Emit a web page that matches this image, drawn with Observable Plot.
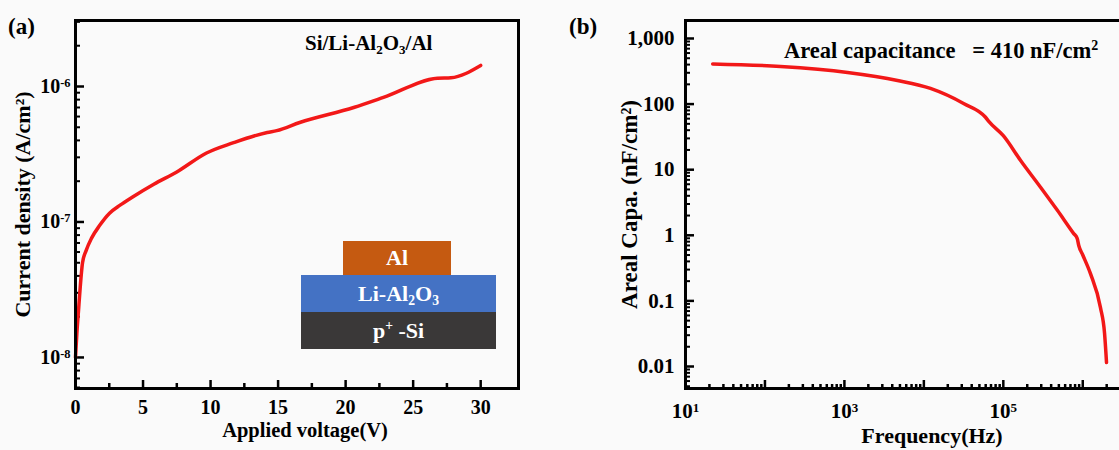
<!DOCTYPE html>
<html>
<head>
<meta charset="utf-8">
<script src="https://cdn.jsdelivr.net/npm/d3@7"></script>
<script src="https://cdn.jsdelivr.net/npm/@observablehq/plot@0.6"></script>
<style>
  body { margin: 0; background: #fafafa; }
  #fig {
    position: relative; width: 1119px; height: 450px; overflow: hidden;
    background: #fafafa; color: #000;
    font-family: "Liberation Serif", "Times New Roman", serif; font-weight: bold;
  }
  #fig svg { position: absolute; top: 0; }
  .note { position: absolute; white-space: pre; line-height: 1; }
  .note sub, .note sup, .layer sub, .layer sup { font-size: 0.62em; line-height: 0; position: relative; vertical-align: baseline; }
  .note sub, .layer sub { top: 0.3em; }
  .note sup, .layer sup { top: -0.55em; }
  .layer {
    position: absolute; color: #fff; font-size: 22px; line-height: 1; white-space: pre;
    display: flex; align-items: center; justify-content: center;
  }
</style>
</head>
<body>
<div id="fig"></div>
<script>
// (a) J–V sweep of the Si/Li-Al2O3/Al stack
const voltage = [0, 0.1, 0.22, 0.35, 0.52, 0.8, 1.19, 1.78, 2.52, 3.3, 4.23, 5.8, 7.5, 9.7, 11.65, 14.2, 14.9, 16.6, 20.6, 22.8, 26.8, 27.8, 30];
const currentDensity = [1.0e-8, 1.5e-8, 2.2e-8, 3.3e-8, 5.0e-8, 6.2e-8, 7.6e-8, 9.4e-8, 1.16e-7, 1.33e-7, 1.53e-7, 1.9e-7, 2.34e-7, 3.23e-7, 3.83e-7, 4.58e-7, 4.72e-7, 5.42e-7, 7.0e-7, 8.3e-7, 1.15e-6, 1.16e-6, 1.43e-6];

// (b) areal capacitance vs. frequency
const frequency = [22, 157, 1094, 4660, 12100, 31600, 59700, 66000, 100000, 165000, 294000, 479000, 765000, 850000, 890000, 1000000, 1250000, 1670000, 1880000, 1990000];
const capacitance = [410, 374, 303, 229, 173, 102, 63, 54, 33, 13.8, 5.4, 2.4, 1.07, 0.9, 0.7, 0.5, 0.26, 0.079, 0.032, 0.0115];

// axis ticks
const voltTicks = [0, 5, 10, 15, 20, 25, 30];
const voltMinor = [2.5, 7.5, 12.5, 17.5, 22.5, 27.5];
const currentTicks = [1e-8, 1e-7, 1e-6];
const freqTicks = [1e1, 1e2, 1e3, 1e4, 1e5, 1e6];
const freqLabels = [1e1, 1e3, 1e5];
const capTicks = [0.01, 0.1, 1, 10, 100, 1000];

// stack layers drawn in the inset, top to bottom
const layerNames = ["Al", "Li-Al<sub>2</sub>O<sub>3</sub>", "p<sup>+</sup> -Si"];
const layerColors = ["#c55a11", "#4472c4", "#3a3838"];

const FONT = '"Liberation Serif", "Times New Roman", serif';
const RED = "#f21818";
const H = 450, TOP = 20, BOTTOM = 62;
const innerH = H - TOP - BOTTOM;

const SUP = {"-": "\u207B", "0": "\u2070", "1": "\u00B9", "2": "\u00B2", "3": "\u00B3", "4": "\u2074", "5": "\u2075", "6": "\u2076", "7": "\u2077", "8": "\u2078", "9": "\u2079"};
const UNSUP = Object.fromEntries(Object.entries(SUP).map(([k, v]) => [v, k]));
const pow10 = d => "10" + String(Math.round(Math.log10(d))).replace(/./g, c => SUP[c]);
const minorLog = (domain, majors) => d3.scaleLog().domain(domain).ticks().filter(t => !majors.some(m => Math.abs(m - t) / m < 1e-9));

// turn "10⁻⁶"-style tick labels into a base plus a raised, smaller exponent
function raiseExponents(svg) {
  svg.querySelectorAll("text").forEach(t => {
    const m = t.textContent.match(/^10([\u207B\u2070\u00B9\u00B2\u00B3\u2074-\u2079]+)$/);
    if (!m) return;
    t.textContent = "10";
    const ts = document.createElementNS("http://www.w3.org/2000/svg", "tspan");
    ts.setAttribute("dy", "-0.5em");
    ts.setAttribute("font-size", "0.62em");
    ts.textContent = [...m[1]].map(c => UNSUP[c]).join("");
    t.appendChild(ts);
  });
}

const fig = document.getElementById("fig");
const baseStyle = {background: "transparent", fontFamily: FONT, fontSize: "21px", fontWeight: "bold", color: "#000", overflow: "visible"};

// ---------- panel (a) ----------
const wA = 560, leftA = 75, rightA = 42;
const innerWA = wA - leftA - rightA;
const yDomainA = [5.9e-9, 3.07e-6];
const ivData = voltage.map((v, i) => ({v, j: currentDensity[i]}));

const plotA = Plot.plot({
  width: wA, height: H,
  marginTop: TOP, marginBottom: BOTTOM, marginLeft: leftA, marginRight: rightA,
  style: baseStyle,
  x: {type: "linear", domain: [0, 32.8]},
  y: {type: "log", domain: yDomainA},
  marks: [
    Plot.ruleX(voltMinor, {insetTop: innerH - 5, stroke: "#000", strokeWidth: 2.5}),
    Plot.ruleX(voltTicks, {insetTop: innerH - 8, stroke: "#000", strokeWidth: 2.5}),
    Plot.ruleY(minorLog(yDomainA, currentTicks), {insetRight: innerWA - 5, stroke: "#000", strokeWidth: 2}),
    Plot.ruleY(currentTicks, {insetRight: innerWA - 9, stroke: "#000", strokeWidth: 2.5}),
    Plot.axisX({ticks: voltTicks, tickSize: 0, tickPadding: 11, label: null, fontSize: 20, tickFormat: d => String(d)}),
    Plot.axisY({ticks: currentTicks, tickSize: 0, tickPadding: 5, label: null, fontSize: 20, tickFormat: pow10}),
    Plot.line(ivData, {x: "v", y: "j", stroke: RED, strokeWidth: 3.5, curve: "monotone-x"}),
    Plot.frame({stroke: "#000", strokeWidth: 3}),
    Plot.text(["Current density (A/cm\u00B2)"], {frameAnchor: "left", dx: -53, rotate: -90, textAnchor: "middle", lineAnchor: "middle", fontSize: 22}),
    Plot.text(["Applied voltage(V)"], {frameAnchor: "bottom", dx: 8, dy: 42, textAnchor: "middle", lineAnchor: "middle", fontSize: 20.5})
  ]
});
raiseExponents(plotA);
plotA.style.left = "0px";
fig.appendChild(plotA);

// ---------- panel (b) ----------
const offB = 560, wB = 562, leftB = 125;
const innerWB = wB - leftB;
const xDomainB = [10, Math.pow(10, 6.5)];
const yDomainB = [0.00462, 1880];
const cvData = frequency.map((f, i) => ({f, c: capacitance[i]}));

const plotB = Plot.plot({
  width: wB, height: H,
  marginTop: TOP, marginBottom: BOTTOM, marginLeft: leftB, marginRight: 0,
  style: baseStyle,
  x: {type: "log", domain: xDomainB},
  y: {type: "log", domain: yDomainB},
  marks: [
    Plot.ruleX(minorLog(xDomainB, freqTicks), {insetTop: innerH - 4, stroke: "#000", strokeWidth: 2.5}),
    Plot.ruleX(freqTicks, {insetTop: innerH - 8, stroke: "#000", strokeWidth: 2.5}),
    Plot.ruleY(minorLog(yDomainB, capTicks), {insetRight: innerWB - 5, stroke: "#000", strokeWidth: 2}),
    Plot.ruleY(capTicks, {insetRight: innerWB - 9, stroke: "#000", strokeWidth: 2.5}),
    Plot.axisX({ticks: freqLabels, tickSize: 0, tickPadding: 15, label: null, fontSize: 21, tickFormat: pow10}),
    Plot.axisY({ticks: capTicks, tickSize: 0, tickPadding: 11, label: null, fontSize: 21, tickFormat: d3.format(",")}),
    Plot.line(cvData, {x: "f", y: "c", stroke: RED, strokeWidth: 3.5, curve: "monotone-x"}),
    Plot.frame({stroke: "#000", strokeWidth: 3}),
    Plot.text(["Areal Capa. (nF/cm\u00B2)"], {frameAnchor: "left", dx: -56, rotate: -90, textAnchor: "middle", lineAnchor: "middle", fontSize: 23}),
    Plot.text(["Frequency(Hz)"], {frameAnchor: "bottom", dx: 28, dy: 47, textAnchor: "middle", lineAnchor: "middle", fontSize: 22})
  ]
});
raiseExponents(plotB);
plotB.style.left = offB + "px";
fig.appendChild(plotB);

// ---------- panel letters and notes ----------
function note(html, left, top, size) {
  const d = document.createElement("div");
  d.className = "note";
  d.innerHTML = html;
  d.style.left = left + "px";
  d.style.top = top + "px";
  d.style.fontSize = size + "px";
  fig.appendChild(d);
}
note("(a)", 8, 15, 23);
note("(b)", 569, 15, 23);
note("Si/Li-Al<sub>2</sub>O<sub>3</sub>/Al", 305, 33, 21);
note("Areal capacitance   = " + capacitance[0] + " nF/cm<sup>2</sup>", 784, 40, 22.5);

// ---------- device stack inset ----------
const layerBoxes = [
  {left: 343, top: 241, width: 108, height: 34},
  {left: 301, top: 275, width: 195, height: 37},
  {left: 301, top: 312, width: 195, height: 37}
];
layerNames.forEach((name, i) => {
  const d = document.createElement("div");
  d.className = "layer";
  d.innerHTML = "<span>" + name + "</span>";
  const b = layerBoxes[i];
  Object.assign(d.style, {left: b.left + "px", top: b.top + "px", width: b.width + "px", height: b.height + "px", background: layerColors[i]});
  fig.appendChild(d);
});
</script>
</body>
</html>
